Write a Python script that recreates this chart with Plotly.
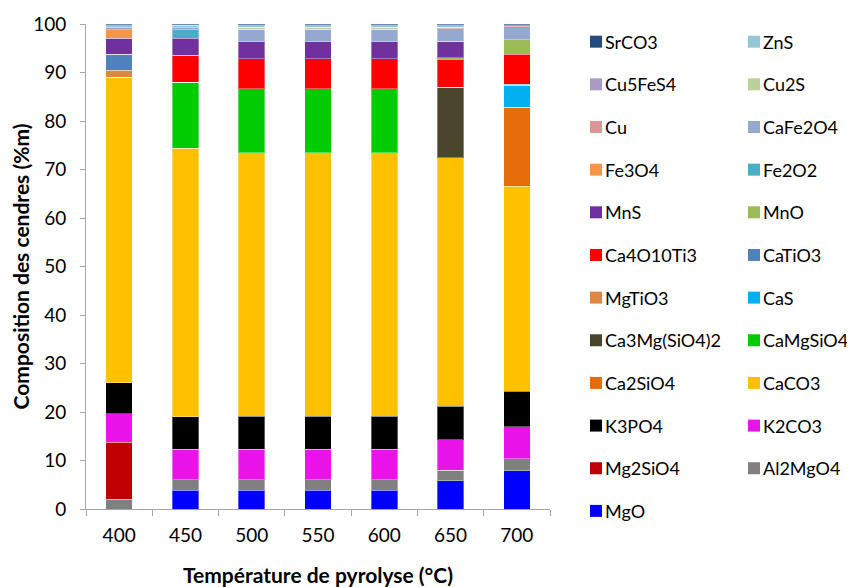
import plotly.graph_objects as go

categories = ["400", "450", "500", "550", "600", "650", "700"]

# stack order, bottom to top
MgO          = [0.0, 3.9, 3.9, 3.9, 3.9, 5.8, 7.9]
Al2MgO4      = [2.0, 2.1, 2.1, 2.1, 2.1, 2.2, 2.5]
Mg2SiO4      = [11.8, 0, 0, 0, 0, 0, 0]
K2CO3        = [5.8, 6.3, 6.3, 6.3, 6.3, 6.3, 6.6]
K3PO4        = [6.4, 6.7, 6.8, 6.8, 6.8, 6.9, 7.3]
CaCO3        = [63.0, 55.4, 54.4, 54.4, 54.4, 51.2, 42.2]
Ca2SiO4      = [0, 0, 0, 0, 0, 0, 16.3]
CaMgSiO4     = [0, 13.6, 13.1, 13.1, 13.1, 0, 0]
Ca3Mg_SiO4_2 = [0, 0, 0, 0, 0, 14.6, 0]
CaS          = [0, 0, 0, 0, 0, 0, 4.6]
MgTiO3       = [1.5, 0, 0, 0, 0, 0, 0]
CaTiO3       = [3.3, 0, 0, 0, 0, 0, 0.2]
Ca4O10Ti3    = [0, 5.6, 6.2, 6.2, 6.2, 5.7, 6.2]
MnO          = [0, 0, 0, 0, 0, 0.3, 3.0]
MnS          = [3.3, 3.5, 3.5, 3.5, 3.5, 3.4, 0]
Fe2O2        = [0, 1.7, 0, 0, 0, 0, 0]
Fe3O4        = [1.7, 0, 0, 0, 0, 0, 0]
CaFe2O4      = [0, 0.4, 2.6, 2.6, 2.6, 2.6, 2.6]
Cu           = [0, 0, 0, 0, 0, 0.3, 0.4]
Cu2S         = [0, 0, 0.4, 0.4, 0.4, 0, 0]
Cu5FeS4      = [0.5, 0, 0, 0, 0, 0, 0]
ZnS          = [0.5, 0.5, 0.5, 0.5, 0.5, 0.5, 0]
SrCO3        = [0.2, 0.3, 0.2, 0.2, 0.2, 0.2, 0.2]

series = [
    ("MgO", MgO, "#0000FF"),
    ("Al2MgO4", Al2MgO4, "#808080"),
    ("Mg2SiO4", Mg2SiO4, "#C00000"),
    ("K2CO3", K2CO3, "#EA14EA"),
    ("K3PO4", K3PO4, "#000000"),
    ("CaCO3", CaCO3, "#FFC000"),
    ("Ca2SiO4", Ca2SiO4, "#E46C0A"),
    ("CaMgSiO4", CaMgSiO4, "#00CC00"),
    ("Ca3Mg(SiO4)2", Ca3Mg_SiO4_2, "#4A452B"),
    ("CaS", CaS, "#00B0F0"),
    ("MgTiO3", MgTiO3, "#DE8744"),
    ("CaTiO3", CaTiO3, "#4F81BD"),
    ("Ca4O10Ti3", Ca4O10Ti3, "#FF0000"),
    ("MnO", MnO, "#9BBB59"),
    ("MnS", MnS, "#7030A0"),
    ("Fe2O2", Fe2O2, "#4BACC6"),
    ("Fe3O4", Fe3O4, "#F79646"),
    ("CaFe2O4", CaFe2O4, "#95A9D0"),
    ("Cu", Cu, "#D99694"),
    ("Cu2S", Cu2S, "#BBD197"),
    ("Cu5FeS4", Cu5FeS4, "#A99BC3"),
    ("ZnS", ZnS, "#93C6D6"),
    ("SrCO3", SrCO3, "#254A80"),
]

FONT = "Lato"
# page has an 8px body margin, so the figure is drawn 8px smaller
W, H = 847, 579
L, T = 78, 16
PLOT_RIGHT, PLOT_BOTTOM = 542, 501.5
R, B = W - PLOT_RIGHT, H - PLOT_BOTTOM
PW, PH = PLOT_RIGHT - L, PLOT_BOTTOM - T

fig = go.Figure()
for name, vals, col in series:
    fig.add_trace(go.Bar(
        x=categories, y=vals, name=name,
        marker=dict(color=col, line=dict(color="rgba(255,255,255,0.35)", width=1)),
        showlegend=False,
    ))

def px2paper(x, y):
    return (x - L) / PW, (PLOT_BOTTOM - y) / PH

# manual two-column legend (reverse stack order)
legend_order = list(reversed(series))
shapes = []
annotations = []
for i, (name, vals, col) in enumerate(legend_order):
    row, c = divmod(i, 2)
    yc = 33.7 + 42.7 * row
    sx = 582 if c == 0 else 740
    x0, y0 = px2paper(sx, yc + 6)
    x1, y1 = px2paper(sx + 12, yc - 6)
    shapes.append(dict(type="rect", xref="paper", yref="paper",
                       x0=x0, x1=x1, y0=y0, y1=y1,
                       fillcolor=col, line=dict(width=0)))
    tx, ty = px2paper(sx + 13, yc)
    annotations.append(dict(xref="paper", yref="paper", x=tx, y=ty,
                            text=name, showarrow=False,
                            xanchor="left", yanchor="middle",
                            font=dict(family=FONT, size=18, color="#000000")))

fig.update_layout(
    width=W, height=H,
    margin=dict(l=L, r=R, t=T, b=B, autoexpand=False),
    barmode="stack", bargap=0.6,
    plot_bgcolor="white", paper_bgcolor="white",
    font=dict(family=FONT, size=19, color="#000000"),
    shapes=shapes, annotations=annotations,
    showlegend=False,
)
fig.update_xaxes(
    automargin=False,
    showline=True, linecolor="#A6A6A6", linewidth=1,
    ticks="outside", ticklen=6, tickcolor="#A6A6A6", tickson="boundaries",
    ticklabelstandoff=9,
    title=dict(text="<b>Température de pyrolyse (°C)</b>", font=dict(size=21), standoff=24),
    showgrid=False,
)
fig.update_yaxes(
    automargin=False,
    range=[0, 100], dtick=10,
    showline=True, linecolor="#A6A6A6", linewidth=1,
    ticks="outside", ticklen=5, tickcolor="#A6A6A6",
    ticklabelstandoff=10,
    title=dict(text="<b>Composition des cendres (%m)</b>", font=dict(size=21), standoff=1),
    showgrid=False, zeroline=False,
)

fig.write_html("out.html")
